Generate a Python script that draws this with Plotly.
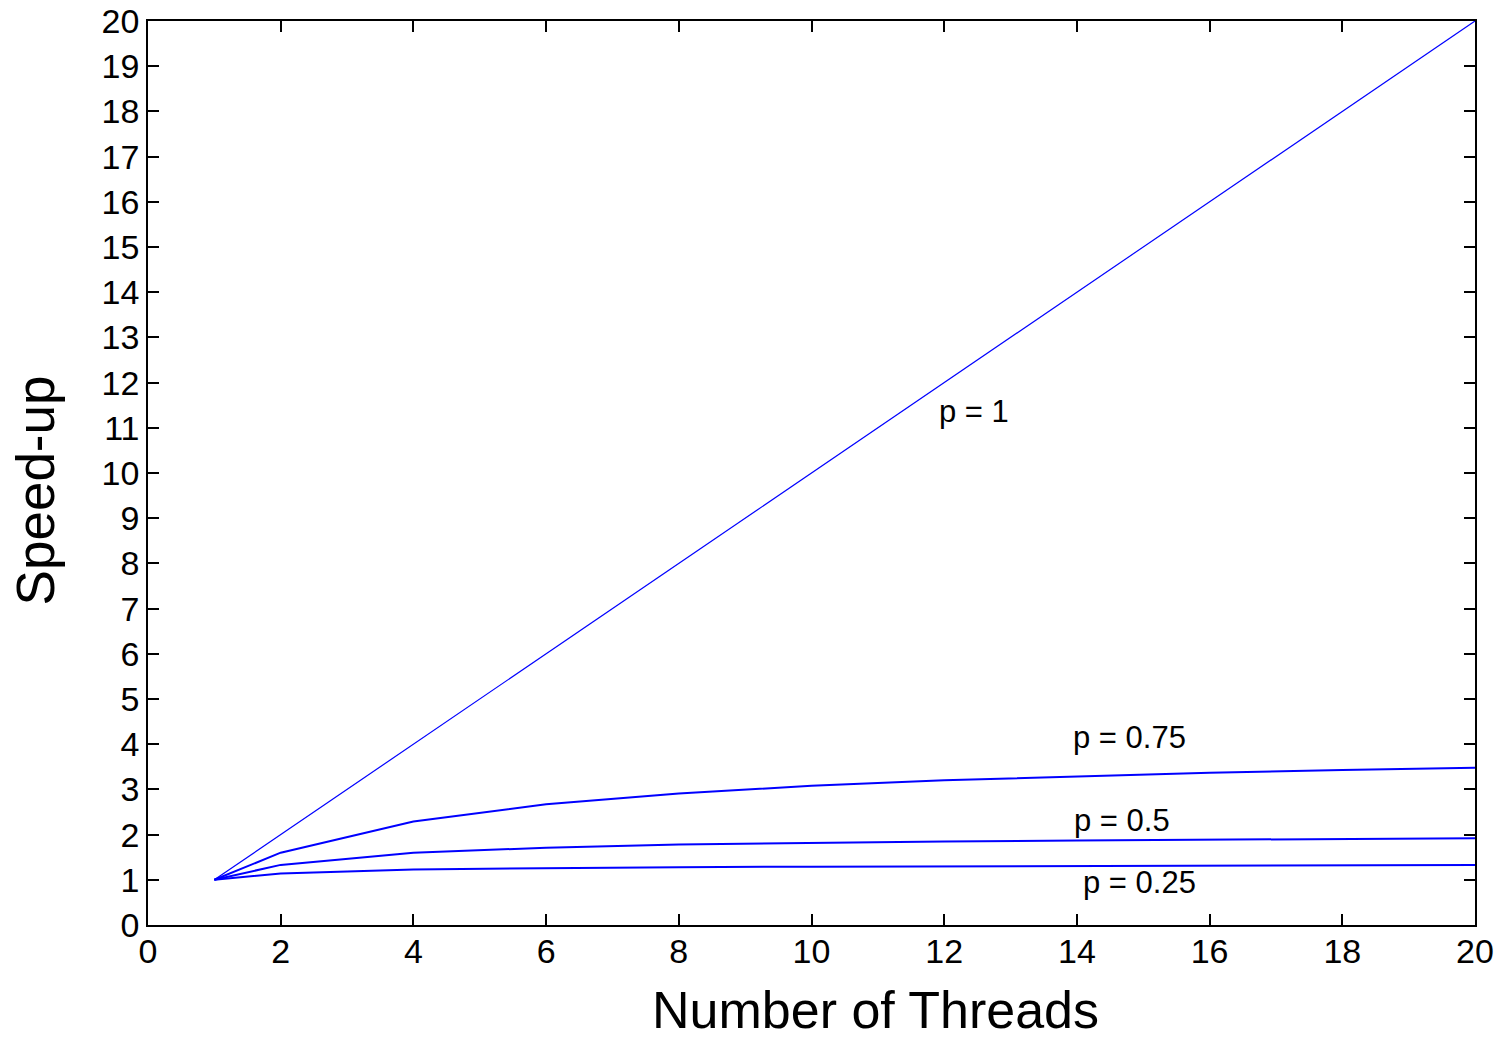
import plotly.graph_objects as go

threads = [1, 2, 4, 6, 8, 10, 12, 14, 16, 18, 20]
speedup_p100 = [1, 2, 4, 6, 8, 10, 12, 14, 16, 18, 20]
speedup_p075 = [1, 1.60, 2.29, 2.67, 2.91, 3.08, 3.20, 3.29, 3.37, 3.43, 3.48]
speedup_p050 = [1, 1.33, 1.60, 1.71, 1.78, 1.82, 1.85, 1.87, 1.89, 1.91, 1.92]
speedup_p025 = [1, 1.14, 1.23, 1.26, 1.28, 1.29, 1.30, 1.31, 1.32, 1.33, 1.33]

labels = ["p = 1", "p = 0.75", "p = 0.5", "p = 0.25"]
label_x = [12.45, 14.8, 14.68, 14.95]
label_y = [11.35, 4.14, 2.32, 0.95]

x_title = "Number of Threads"
y_title = "Speed-up"

series = [speedup_p100, speedup_p075, speedup_p050, speedup_p025]
widths = [1.2, 2, 2, 2]

font = "Liberation Sans, Arial, Helvetica, sans-serif"

fig = go.Figure()
for ys, w, name in zip(series, widths, labels):
    fig.add_trace(go.Scatter(x=threads, y=ys, mode="lines", name=name,
                             line=dict(color="#0000ff", width=w)))

for t, x, y in zip(labels, label_x, label_y):
    fig.add_annotation(x=x, y=y, text=t, showarrow=False,
                       font=dict(family=font, size=31, color="black"))

# axis titles as paper-positioned text
fig.add_annotation(xref="paper", yref="paper", x=0.548, y=-0.1272, text=x_title,
                   showarrow=False, xanchor="center", yanchor="bottom", borderpad=0,
                   font=dict(family=font, size=52, color="black"))
fig.add_annotation(xref="paper", yref="paper", x=-0.085, y=0.481, text=y_title,
                   showarrow=False, xanchor="center", yanchor="middle", textangle=-90,
                   font=dict(family=font, size=53, color="black"))

axis_common = dict(showgrid=False, zeroline=False, showline=True, linecolor="black",
                   linewidth=1.5, mirror="allticks", ticks="inside", ticklen=11,
                   tickwidth=1.5, tickcolor="black", automargin=False,
                   ticklabeloverflow="allow",
                   tickfont=dict(family=font, size=34, color="black"))

fig.update_xaxes(range=[0, 20], dtick=2, tick0=0, ticklabelstandoff=-5, **axis_common)
fig.update_yaxes(range=[0, 20], dtick=1, tick0=0, **axis_common)

fig.update_layout(width=1503, height=1040, showlegend=False,
                  plot_bgcolor="white", paper_bgcolor="white",
                  margin=dict(l=148, r=28, t=21, b=115))

fig.write_html("out.html", config={"displayModeBar": False},
               post_script="document.body.style.margin='0';document.body.style.overflow='hidden';")
